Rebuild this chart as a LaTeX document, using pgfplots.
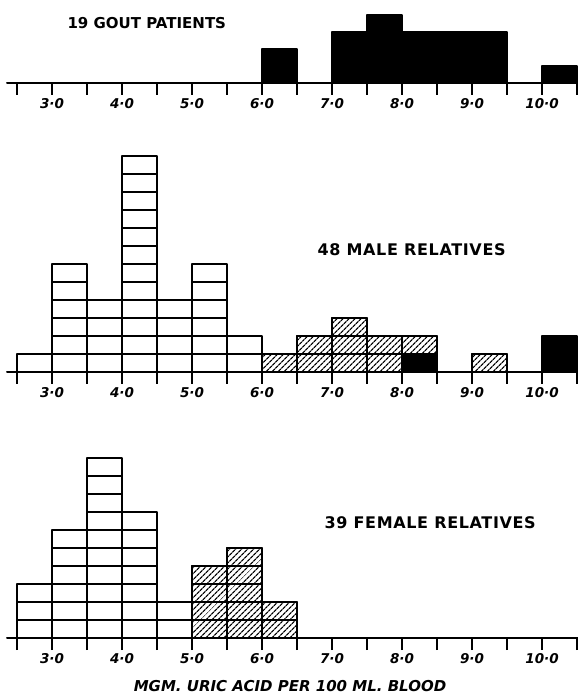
\documentclass[border=0pt]{standalone}
\usepackage{fontspec}
\setmainfont{DejaVu Sans}
\usepackage{pgfplots}
\pgfplotsset{compat=1.18}
\usetikzlibrary{patterns.meta}

% one box = one subject; each coordinate is a box (bin centre, level of its top),
% listed from the top down so that every box keeps its own outline
\pgfplotsset{
  uric/.style={
    x=70pt, xmin=2.357, xmax=10.514, ymin=0,
    axis x line=bottom, axis y line=none,
    axis line style={-, line width=2pt, line cap=round},
    xtick={2.5,3,...,10.5},
    xticklabels={,3·0,,4·0,,5·0,,6·0,,7·0,,8·0,,9·0,,10·0,},
    xtick align=outside, major tick length=12pt,
    tick style={line width=2pt, black},
    xticklabel style={font=\fontsize{13.5}{14}\selectfont\bfseries\itshape},
    clip=false,
    anchor=south west,
  },
  cellbase/.style={ybar, bar width=0.5, bar shift=0pt, line width=2pt,
    draw=black, line join=round},
  cellopen/.style={cellbase, fill=white},
  cellhatch/.style={cellbase, fill=white,
    postaction={pattern={Lines[angle=45,distance=4pt,line width=1.35pt]}}},
  cellblack/.style={cellbase, fill=black},
}
\tikzset{grouptitle/.style={anchor=west,
  font=\fontsize{16}{18}\selectfont\bfseries\addfontfeatures{LetterSpace=4}}}

\begin{document}
\begin{tikzpicture}
\useasboundingbox (0,0) rectangle (578pt,696pt);

% 19 gout patients
\begin{axis}[uric, y=17pt, ymax=4.5, at={(7pt,613pt)}]
\addplot[cellblack] coordinates {
  (6.25,2) (6.25,1)
  (7.25,3) (7.25,2) (7.25,1)
  (7.75,4) (7.75,3) (7.75,2) (7.75,1)
  (8.25,3) (8.25,2) (8.25,1)
  (8.75,3) (8.75,2) (8.75,1)
  (9.25,3) (9.25,2) (9.25,1)
  (10.25,1)
};
\end{axis}

% 48 male relatives
\begin{axis}[uric, y=18pt, ymax=12.5, at={(7pt,324pt)}]
\addplot[cellopen] coordinates {
  (2.75,1)
  (3.25,6) (3.25,5) (3.25,4) (3.25,3) (3.25,2) (3.25,1)
  (3.75,4) (3.75,3) (3.75,2) (3.75,1)
  (4.25,12) (4.25,11) (4.25,10) (4.25,9) (4.25,8) (4.25,7)
  (4.25,6) (4.25,5) (4.25,4) (4.25,3) (4.25,2) (4.25,1)
  (4.75,4) (4.75,3) (4.75,2) (4.75,1)
  (5.25,6) (5.25,5) (5.25,4) (5.25,3) (5.25,2) (5.25,1)
  (5.75,2) (5.75,1)
};
\addplot[cellhatch] coordinates {
  (6.25,1)
  (6.75,2) (6.75,1)
  (7.25,3) (7.25,2) (7.25,1)
  (7.75,2) (7.75,1)
  (8.25,2)
  (9.25,1)
};
\addplot[cellblack] coordinates {
  (8.25,1)
  (10.25,2) (10.25,1)
};
\end{axis}

% 39 female relatives
\begin{axis}[uric, y=18pt, ymax=10.5, at={(7pt,58pt)}]
\addplot[cellopen] coordinates {
  (2.75,3) (2.75,2) (2.75,1)
  (3.25,6) (3.25,5) (3.25,4) (3.25,3) (3.25,2) (3.25,1)
  (3.75,10) (3.75,9) (3.75,8) (3.75,7) (3.75,6)
  (3.75,5) (3.75,4) (3.75,3) (3.75,2) (3.75,1)
  (4.25,7) (4.25,6) (4.25,5) (4.25,4) (4.25,3) (4.25,2) (4.25,1)
  (4.75,2) (4.75,1)
};
\addplot[cellhatch] coordinates {
  (5.25,4) (5.25,3) (5.25,2) (5.25,1)
  (5.75,5) (5.75,4) (5.75,3) (5.75,2) (5.75,1)
  (6.25,2) (6.25,1)
};
\end{axis}

\node[anchor=west, font=\fontsize{15}{18}\selectfont\bfseries] at (64pt,673pt) {19 GOUT PATIENTS};
\node[grouptitle] at (314pt,446pt) {48 MALE RELATIVES};
\node[grouptitle] at (321pt,173pt) {39 FEMALE RELATIVES};
\node[font=\fontsize{15}{16}\selectfont\bfseries\itshape] at (290pt,10pt) {MGM. URIC ACID PER 100 ML. BLOOD};
\end{tikzpicture}
\end{document}
